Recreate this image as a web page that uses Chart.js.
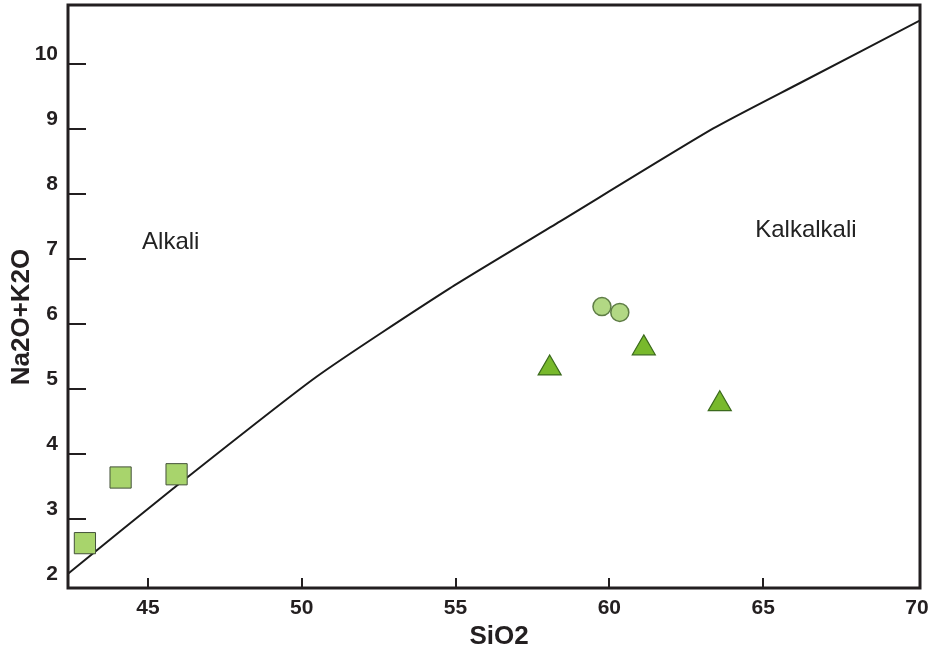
<!DOCTYPE html>
<html lang="en">
<head>
    <meta charset="UTF-8">
    <title>Na2O+K2O vs SiO2</title>
    <style>
        html, body {
            margin: 0;
            padding: 0;
            background-color: white;
        }
        .chart-box {
            width: 940px;
            height: 655px;
            position: relative;
        }
    </style>
</head>
<body>
    <div class="chart-box">
        <canvas id="chart"></canvas>
    </div>

    <script src="https://cdn.jsdelivr.net/npm/chart.js"></script>
    <script>
        // dividing line between the two fields
        const curveSiO2 = [42.4, 45.82, 50.48, 54.81, 58.40, 63.38, 66.20, 70.09];
        const curveAlk = [2.16, 3.47, 5.19, 6.55, 7.58, 9.01, 9.71, 10.67];

        // samples
        const squareSiO2 = [42.95, 44.11, 45.93];
        const squareAlk = [2.63, 3.64, 3.69];
        const circleSiO2 = [59.76, 60.34];
        const circleAlk = [6.27, 6.18];
        const triangleSiO2 = [58.06, 61.12, 63.59];
        const triangleAlk = [5.32, 5.63, 4.77];

        // axes
        const xTicks = [45, 50, 55, 60, 65, 70];
        const yTicks = [2, 3, 4, 5, 6, 7, 8, 9, 10];
        const xTitle = 'SiO2';
        const yTitle = 'Na2O+K2O';

        // field names
        const fieldNames = ['Alkali', 'Kalkalkali'];
        const fieldSiO2 = [45.74, 66.39];
        const fieldAlk = [7.26, 7.44];

        const FONT = "'Liberation Sans', Arial, sans-serif";
        const INK = '#231f20';

        function toPoints(xs, ys) {
            return xs.map((x, i) => ({ x: x, y: ys[i] }));
        }

        // frame, inward ticks, field names and axis titles
        const decorations = {
            id: 'decorations',
            afterDatasetsDraw(chart) {
                const ctx = chart.ctx;
                const area = chart.chartArea;
                const xs = chart.scales.x;
                const ys = chart.scales.y;
                ctx.save();

                ctx.strokeStyle = INK;
                ctx.lineWidth = 2;
                xTicks.forEach(v => {
                    const px = Math.round(xs.getPixelForValue(v));
                    if (px < area.left + 8 || px > area.right - 8) return;
                    ctx.beginPath();
                    ctx.moveTo(px, area.bottom);
                    ctx.lineTo(px, area.bottom - 10);
                    ctx.stroke();
                });
                yTicks.forEach(v => {
                    const py = Math.round(ys.getPixelForValue(v));
                    if (py < area.top + 8 || py > area.bottom - 8) return;
                    ctx.beginPath();
                    ctx.moveTo(area.left, py);
                    ctx.lineTo(area.left + 18, py);
                    ctx.stroke();
                });

                ctx.lineWidth = 3;
                ctx.strokeRect(area.left, area.top, area.right - area.left, area.bottom - area.top);

                ctx.fillStyle = '#222';
                ctx.font = '24px ' + FONT;
                ctx.textAlign = 'center';
                ctx.textBaseline = 'middle';
                fieldNames.forEach((name, i) => {
                    ctx.fillText(name, xs.getPixelForValue(fieldSiO2[i]), ys.getPixelForValue(fieldAlk[i]));
                });

                ctx.fillStyle = INK;
                ctx.font = 'bold 26px ' + FONT;
                ctx.fillText(xTitle, 499, 637);
                ctx.translate(22, 317);
                ctx.rotate(-Math.PI / 2);
                ctx.fillText(yTitle, 0, 0);
                ctx.restore();
            }
        };

        const ctx = document.getElementById('chart').getContext('2d');
        const chart = new Chart(ctx, {
            type: 'scatter',
            data: {
                datasets: [
                    {
                        label: 'boundary',
                        data: toPoints(curveSiO2, curveAlk),
                        showLine: true,
                        borderColor: '#1a1a1a',
                        borderWidth: 2,
                        pointRadius: 0,
                        tension: 0.2,
                        order: 10
                    },
                    {
                        label: 'squares',
                        data: toPoints(squareSiO2, squareAlk),
                        pointStyle: 'rect',
                        pointRadius: 15,
                        backgroundColor: '#a8d46c',
                        borderColor: '#44523a',
                        borderWidth: 1,
                        order: 1
                    },
                    {
                        label: 'circles',
                        data: toPoints(circleSiO2, circleAlk),
                        pointStyle: 'circle',
                        pointRadius: 9,
                        backgroundColor: '#b2d884',
                        borderColor: '#5e7c45',
                        borderWidth: 1.5,
                        order: 1
                    },
                    {
                        label: 'triangles',
                        data: toPoints(triangleSiO2, triangleAlk),
                        pointStyle: 'triangle',
                        pointRadius: 13.3,
                        backgroundColor: '#78b92c',
                        borderColor: '#3b6a1c',
                        borderWidth: 1.2,
                        order: 1
                    }
                ]
            },
            options: {
                responsive: true,
                maintainAspectRatio: false,
                animation: false,
                layout: {
                    autoPadding: false,
                    padding: { top: 5, right: 20, left: 0, bottom: 0 }
                },
                plugins: {
                    legend: { display: false },
                    tooltip: { enabled: false }
                },
                scales: {
                    x: {
                        type: 'linear',
                        min: 42.4,
                        max: 70.1,
                        afterBuildTicks: scale => {
                            scale.ticks = xTicks.map(v => ({ value: v }));
                        },
                        afterFit: scale => {
                            scale.height = 67;
                            scale.paddingLeft = 0;
                            scale.paddingRight = 0;
                        },
                        grid: { display: false, drawTicks: false },
                        border: { display: false },
                        ticks: {
                            color: INK,
                            padding: 8,
                            maxRotation: 0,
                            autoSkip: false,
                            font: { family: FONT, size: 21, weight: 'bold' }
                        }
                    },
                    y: {
                        type: 'linear',
                        min: 1.94,
                        max: 10.91,
                        afterBuildTicks: scale => {
                            scale.ticks = yTicks.map(v => ({ value: v }));
                        },
                        afterFit: scale => {
                            scale.width = 68;
                            scale.paddingTop = 0;
                            scale.paddingBottom = 0;
                        },
                        grid: { display: false, drawTicks: false },
                        border: { display: false },
                        ticks: {
                            color: INK,
                            padding: 10,
                            labelOffset: -10,
                            autoSkip: false,
                            font: { family: FONT, size: 21, weight: 'bold' }
                        }
                    }
                }
            },
            plugins: [decorations]
        });
    </script>
</body>
</html>
